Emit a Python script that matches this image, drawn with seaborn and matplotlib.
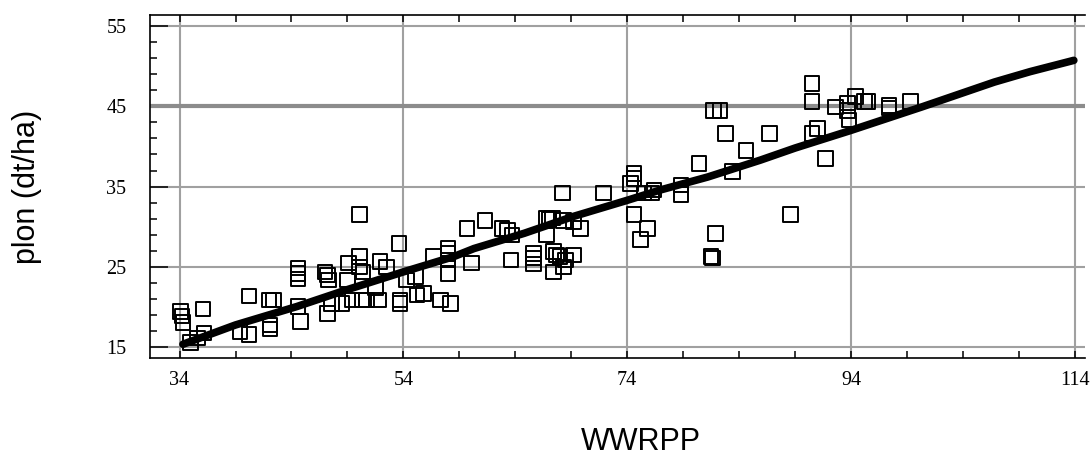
import numpy as np
import matplotlib
matplotlib.use("Agg")
import matplotlib.pyplot as plt
import seaborn as sns

# scatter data
wwrpp = [34.1, 34.2, 34.3, 36.1, 35.0, 35.6, 36.2, 40.2, 39.4, 40.2,
         42.0, 42.4, 42.1, 42.1, 44.6, 44.6, 44.6, 44.6, 44.8, 47.0,
         47.2, 47.3, 47.2, 47.6, 49.1, 50.1, 50.1, 49.0, 49.4, 50.3,
         50.7, 51.8, 48.5, 50.1, 50.4, 51.9, 52.5, 51.5, 53.6, 53.7,
         53.7, 54.3, 55.1, 55.2, 55.8, 57.3, 58.2, 56.7, 58.0, 58.0,
         58.0, 58.0, 59.7, 60.1, 61.3, 62.8, 63.3, 63.7, 63.6, 65.6,
         65.6, 65.6, 66.8, 67.0, 67.3, 66.8, 67.4, 67.7, 68.0, 68.5,
         69.2, 67.4, 68.3, 68.3, 69.2, 69.8, 68.2, 71.9, 74.6, 74.3,
         74.6, 74.6, 75.2, 75.8, 75.5, 76.4, 76.2, 78.8, 78.8, 80.4,
         81.9, 81.5, 81.6, 81.7, 82.3, 82.8, 83.4, 84.6, 86.7, 88.6,
         90.5, 90.5, 90.5, 91.0, 91.7, 92.6, 93.7, 93.8, 93.7, 94.4,
         95.2, 95.5, 97.4, 97.4, 99.3]
plon = [19.5, 18.9, 18.1, 19.8, 15.6, 16.2, 16.8, 21.4, 17.0, 16.6,
        20.9, 20.9, 17.8, 17.3, 24.9, 24.2, 23.5, 20.1, 18.2, 24.4,
        24.0, 23.4, 19.25, 20.5, 25.5, 26.3, 31.5, 23.4, 20.9, 20.9,
        20.9, 20.9, 20.5, 25.0, 24.4, 25.7, 25.0, 22.4, 27.9, 20.9,
        20.5, 23.4, 23.8, 21.5, 21.7, 20.9, 20.5, 26.3, 27.3, 26.7,
        25.9, 24.2, 29.8, 25.5, 30.8, 29.8, 29.6, 29.0, 25.9, 26.7,
        26.1, 25.4, 31.1, 30.9, 31.1, 29.0, 26.9, 26.5, 26.3, 25.9,
        26.5, 24.4, 25.0, 30.8, 30.6, 29.8, 34.2, 34.2, 36.6, 35.4,
        36.0, 31.5, 28.4, 29.8, 34.2, 34.6, 34.2, 35.2, 34.0, 37.9,
        29.2, 26.3, 26.1, 44.5, 44.5, 41.6, 36.9, 39.5, 41.6, 31.5,
        47.8, 45.6, 41.6, 42.2, 38.5, 44.9, 45.4, 43.3, 44.5, 46.2,
        45.6, 45.6, 45.1, 44.8, 45.6]

# fitted curve
fit_x = [34.3, 39.0, 44.5, 49.0, 54.0, 58.5, 60.3, 64.8, 69.2, 74.0,
         77.0, 81.2, 85.9, 89.0, 94.0, 100.3, 106.8, 110.0, 113.9]
fit_y = [15.4, 17.8, 20.1, 22.2, 24.4, 26.3, 27.3, 29.2, 31.3, 33.3,
         34.6, 36.2, 38.3, 39.8, 42.0, 44.9, 48.0, 49.3, 50.7]

x_ticks = [34, 54, 74, 94, 114]
y_ticks = [15, 25, 35, 45, 55]

sns.set_style("white")
plt.rcParams["font.family"] = ["Liberation Sans", "DejaVu Sans"]
plt.rcParams["text.color"] = "black"
plt.rcParams["axes.labelcolor"] = "black"
plt.rcParams["xtick.color"] = "black"
plt.rcParams["ytick.color"] = "black"

fig, ax = plt.subplots(figsize=(10.91, 4.57), dpi=100)
fig.subplots_adjust(left=0.1375, right=0.9945, bottom=0.2166, top=0.967)

ax.grid(True, color="#a0a0a0", lw=1.5, zorder=0)
ax.axhline(45, color="#8c8c8c", lw=3, zorder=1)

sns.scatterplot(x=wwrpp, y=plon, marker="s", s=110, color="black",
                facecolors="none", edgecolor="black", linewidth=1.4,
                ax=ax, zorder=3)
sns.lineplot(x=fit_x, y=fit_y, color="black", lw=5.5, ax=ax, zorder=4)

ax.set_xlim(31.36, 114.9)
ax.set_ylim(13.69, 56.33)
ax.set_xticks(x_ticks)
ax.set_xticks(np.arange(34, 115, 5), minor=True)
ax.set_yticks(y_ticks)
ax.set_yticks(np.arange(15, 56, 2), minor=True)
ax.set_axisbelow(True)

for lab in ax.get_xticklabels() + ax.get_yticklabels():
    lab.set_family("Liberation Serif")
    lab.set_fontsize(14.5)

ax.tick_params(axis="x", which="both", direction="in", top=True, bottom=True,
               length=5, width=1.1, pad=9, color="black")
ax.tick_params(axis="y", which="major", direction="in", left=True, length=13,
               width=1.1, pad=17, color="black")
ax.tick_params(axis="y", which="minor", direction="in", left=True, length=5,
               width=1.1, color="black")

for side in ["left", "top", "bottom"]:
    ax.spines[side].set_color("black")
    ax.spines[side].set_linewidth(1.2)
ax.spines["right"].set_visible(False)

ax.set_xlabel("WWRPP", fontsize=22, color="black")
ax.set_ylabel("plon (dt/ha)", fontsize=22, color="black")
ax.xaxis.set_label_coords(0.525, -0.2)
ax.yaxis.set_label_coords(-0.1155, 0.5)

plt.savefig("out.png", dpi=100)
plt.close()
